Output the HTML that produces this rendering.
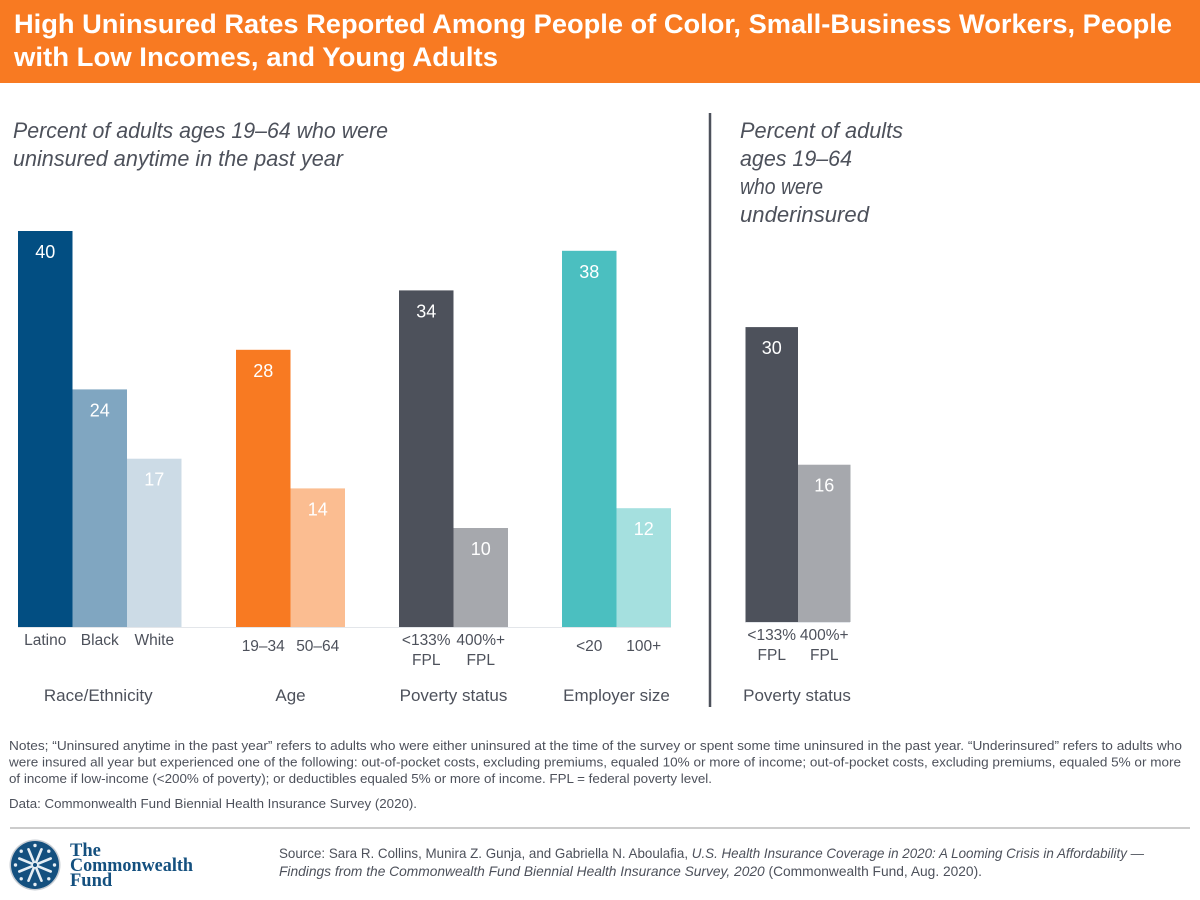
<!DOCTYPE html>
<html lang="en">
<head>
<meta charset="utf-8">
<title>High Uninsured Rates</title>
<style>
html,body{margin:0;padding:0;background:#fff;width:1200px;height:900px;overflow:hidden}
svg{display:block;font-family:"Liberation Sans",sans-serif}
.title{font-size:27px;font-weight:700;fill:#fff}
.sub{font-size:22px;font-style:italic;fill:#4d515b}
.cat{font-size:15.5px;fill:#4d515b;text-anchor:middle}
.grp{font-size:17px;fill:#4d515b;text-anchor:middle}
.val{font-size:18px;fill:#fff;text-anchor:middle}
.note{font-size:13.2px;fill:#4d515b}
.src{font-size:13.6px;fill:#4d515b}
</style>
</head>
<body>
<svg id="chart" width="1200" height="900" viewBox="0 0 1200 900" xmlns="http://www.w3.org/2000/svg">
<rect width="1200" height="900" fill="#fff"/>
<rect width="1200" height="83" fill="#f87a22"/>
<text class="title" x="14" y="33" textLength="1158" lengthAdjust="spacingAndGlyphs">High Uninsured Rates Reported Among People of Color, Small-Business Workers, People</text>
<text class="title" x="14" y="66" textLength="484" lengthAdjust="spacingAndGlyphs">with Low Incomes, and Young Adults</text>

<text class="sub" x="13" y="138" textLength="375" lengthAdjust="spacingAndGlyphs">Percent of adults ages 19–64 who were</text>
<text class="sub" x="13" y="166" textLength="330" lengthAdjust="spacingAndGlyphs">uninsured anytime in the past year</text>
<text class="sub" x="740" y="138" textLength="163" lengthAdjust="spacingAndGlyphs">Percent of adults</text>
<text class="sub" x="740" y="166" textLength="112" lengthAdjust="spacingAndGlyphs">ages 19–64</text>
<text class="sub" x="740" y="194" textLength="83" lengthAdjust="spacingAndGlyphs">who were</text>
<text class="sub" x="740" y="222" textLength="129" lengthAdjust="spacingAndGlyphs">underinsured</text>

<line x1="710" y1="113" x2="710" y2="707" stroke="#4d515b" stroke-width="2.5"/>

<g id="bars"></g>

<line x1="18" y1="627.5" x2="671" y2="627.5" stroke="#e3e6ea" stroke-width="1"/>
<line x1="745" y1="622.5" x2="850" y2="622.5" stroke="#e3e6ea" stroke-width="1"/>

<text class="note" x="9" y="750" textLength="1173" lengthAdjust="spacingAndGlyphs">Notes; “Uninsured anytime in the past year” refers to adults who were either uninsured at the time of the survey or spent some time uninsured in the past year. “Underinsured” refers to adults who</text>
<text class="note" x="9" y="766.5" textLength="1172" lengthAdjust="spacingAndGlyphs">were insured all year but experienced one of the following: out-of-pocket costs, excluding premiums, equaled 10% or more of income; out-of-pocket costs, excluding premiums, equaled 5% or more</text>
<text class="note" x="9" y="783" textLength="703" lengthAdjust="spacingAndGlyphs">of income if low-income (&lt;200% of poverty); or deductibles equaled 5% or more of income. FPL = federal poverty level.</text>
<text class="note" x="9" y="808" textLength="408" lengthAdjust="spacingAndGlyphs">Data: Commonwealth Fund Biennial Health Insurance Survey (2020).</text>

<line x1="10" y1="828" x2="1190" y2="828" stroke="#bcbcbc" stroke-width="1.5"/>

<g>
<circle cx="35" cy="865" r="25.5" fill="#c9ced4"/>
<circle cx="35" cy="865" r="24" fill="#14507f"/>
<g id="flake" stroke="#e6eef4" fill="none" stroke-linecap="round"></g>
<circle cx="35" cy="865" r="2" fill="#14507f"/>
<text x="70" y="856" font-family="Liberation Serif, serif" font-size="18.5" font-weight="700" fill="#14507f">The</text>
<text x="70" y="871" font-family="Liberation Serif, serif" font-size="18.5" font-weight="700" fill="#14507f" textLength="123" lengthAdjust="spacingAndGlyphs">Commonwealth</text>
<text x="70" y="886" font-family="Liberation Serif, serif" font-size="18.5" font-weight="700" fill="#14507f">Fund</text>
</g>

<text class="src" x="279" y="858" textLength="865" lengthAdjust="spacingAndGlyphs">Source: Sara R. Collins, Munira Z. Gunja, and Gabriella N. Aboulafia, <tspan font-style="italic">U.S. Health Insurance Coverage in 2020: A Looming Crisis in Affordability —</tspan></text>
<text class="src" x="279" y="876" textLength="703" lengthAdjust="spacingAndGlyphs"><tspan font-style="italic">Findings from the Commonwealth Fund Biennial Health Insurance Survey, 2020</tspan> (Commonwealth Fund, Aug. 2020).</text>
</svg>
<script>
const NS = 'http://www.w3.org/2000/svg';
const leftCategories = ['Latino', 'Black', 'White', '19–34', '50–64', '<133%|FPL', '400%+|FPL', '<20', '100+'];
const leftValues = [40, 24, 17, 28, 14, 34, 10, 38, 12];
const leftGroups = [0, 0, 0, 1, 1, 2, 2, 3, 3];
const leftColors = ['#024e82', '#80a6c1', '#ccdbe6', '#f87a22', '#fbbd91', '#4d515b', '#a6a8ad', '#4bbfc0', '#a5e0df'];
const groupNames = ['Race/Ethnicity', 'Age', 'Poverty status', 'Employer size'];
const rightCategories = ['<133%|FPL', '400%+|FPL'];
const rightValues = [30, 16];
const rightColors = ['#4d515b', '#a6a8ad'];
const rightGroupName = 'Poverty status';

const barW = 54.5;
const groupStart = [18, 236, 399, 562];
const groupLabelShift = [-1.5, 0, 0, 0];
const catY = [645, 651, 645, 651];
const yLeft = v => 627 - v * 9.9;
const yRight = v => 622 - v * 9.83;
const root = document.getElementById('bars');

function addText(cls, x, y, str) {
  const t = document.createElementNS(NS, 'text');
  t.setAttribute('class', cls);
  t.setAttribute('x', x);
  t.setAttribute('y', y);
  t.textContent = str;
  root.appendChild(t);
  return t;
}
function addBar(x, w, yFn, v, color) {
  const r = document.createElementNS(NS, 'rect');
  r.setAttribute('x', x);
  r.setAttribute('y', yFn(v));
  r.setAttribute('width', w);
  r.setAttribute('height', yFn(0) - yFn(v));
  r.setAttribute('fill', color);
  
  
  root.appendChild(r);
  const t = addText('val', x + w / 2, yFn(v) + 27, String(v));
  
  
}
function addCat(x, y, label) {
  label.split('|').forEach((part, i) => {
    const t = addText('cat', x, y + i * 20, part);
    
    
  });
}

const seen = {};
leftValues.forEach((v, i) => {
  const g = leftGroups[i];
  seen[g] = (seen[g] || 0);
  const x = groupStart[g] + seen[g] * barW;
  seen[g]++;
  addBar(x, barW, yLeft, v, leftColors[i]);
  addCat(x + barW / 2, catY[g], leftCategories[i]);
});
groupNames.forEach((name, g) => {
  const n = leftGroups.filter(k => k === g).length;
  const t = addText('grp', groupStart[g] + n * barW / 2 + groupLabelShift[g], 701, name);
  
  
});
rightValues.forEach((v, i) => {
  const x = 745.5 + i * 52.5;
  addBar(x, 52.5, yRight, v, rightColors[i]);
  addCat(x + 26.25, 640, rightCategories[i]);
});
const rg = addText('grp', 797, 701, rightGroupName);



const flake = document.getElementById('flake');
for (let a = 0; a < 8; a++) {
  const ang = a * Math.PI / 4 + Math.PI / 8;
  const c = Math.cos(ang), s = Math.sin(ang);
  const l = document.createElementNS(NS, 'line');
  l.setAttribute('x1', 35 + 3 * c);
  l.setAttribute('y1', 865 + 3 * s);
  l.setAttribute('x2', 35 + 17 * c);
  l.setAttribute('y2', 865 + 17 * s);
  l.setAttribute('stroke-width', '2.6');
  flake.appendChild(l);
  const d = document.createElementNS(NS, 'circle');
  d.setAttribute('cx', 35 + 19.5 * Math.cos(ang + Math.PI / 8));
  d.setAttribute('cy', 865 + 19.5 * Math.sin(ang + Math.PI / 8));
  d.setAttribute('r', '1.7');
  d.setAttribute('fill', '#e6eef4');
  d.setAttribute('stroke', 'none');
  flake.appendChild(d);
}
</script>
</body>
</html>
